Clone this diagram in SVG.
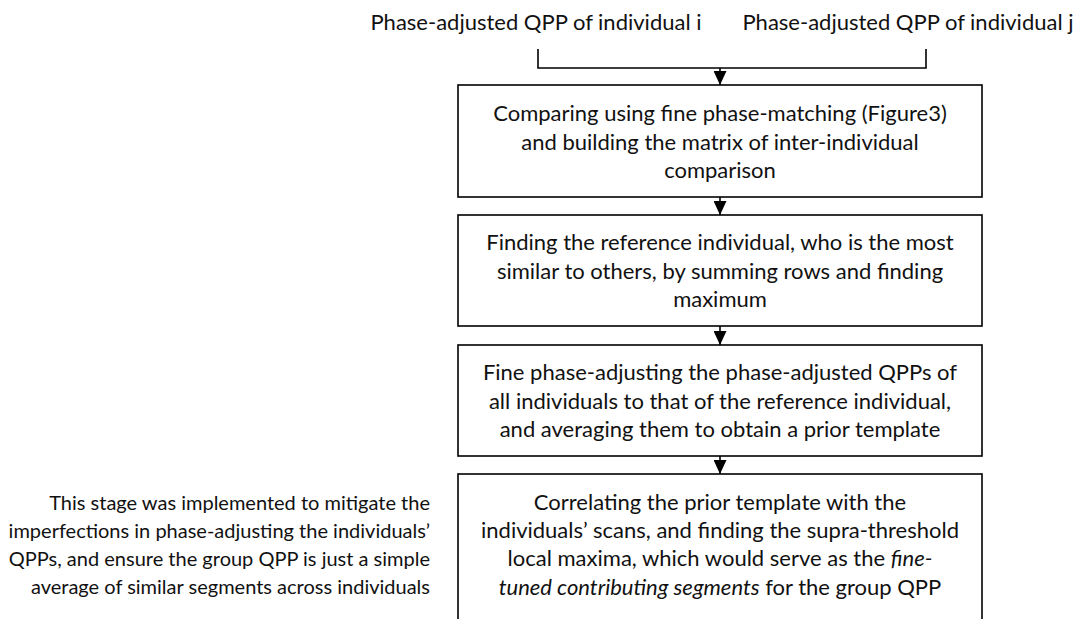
<svg xmlns="http://www.w3.org/2000/svg" width="1079" height="619" viewBox="0 0 1079 619">
  <defs>
    <marker id="arrowhead" markerWidth="14" markerHeight="13" refX="14" refY="6.5" orient="auto" markerUnits="userSpaceOnUse">
      <path d="M0,0 L14,6.5 L0,13 Z" fill="#000"/>
    </marker>
  </defs>
  <style>
    .box { fill: #fff; stroke: #000; stroke-width: 1.6; }
    .edge { fill: none; stroke: #000; stroke-width: 1.6; }
    .label { font-family: Lato, "Open Sans", sans-serif; font-size: 22px; fill: #111; text-anchor: middle; }
    .note { font-family: Lato, "Open Sans", sans-serif; font-size: 20px; fill: #111; text-anchor: end; }
    .it { font-style: italic; }
  </style>
  <rect width="1079" height="619" fill="#fff"/>

  <!-- inputs -->
  <g id="input-i">
    <text class="label" x="536" y="30">Phase-adjusted QPP of individual i</text>
  </g>
  <g id="input-j">
    <text class="label" x="908" y="30">Phase-adjusted QPP of individual j</text>
  </g>

  <!-- process steps -->
  <g id="step-compare">
    <rect class="box" x="458" y="85" width="524" height="112"/>
    <text class="label" x="720" y="121">Comparing using fine phase-matching (Figure3)</text>
    <text class="label" x="720" y="150">and building the matrix of inter-individual</text>
    <text class="label" x="720" y="178">comparison</text>
  </g>
  <g id="step-reference">
    <rect class="box" x="458" y="215" width="524" height="111"/>
    <text class="label" x="720" y="250">Finding the reference individual, who is the most</text>
    <text class="label" x="720" y="279">similar to others, by summing rows and finding</text>
    <text class="label" x="720" y="307">maximum</text>
  </g>
  <g id="step-prior-template">
    <rect class="box" x="458" y="345" width="524" height="111"/>
    <text class="label" x="720" y="380">Fine phase-adjusting the phase-adjusted QPPs of</text>
    <text class="label" x="720" y="409">all individuals to that of the reference individual,</text>
    <text class="label" x="720" y="437">and averaging them to obtain a prior template</text>
  </g>
  <g id="step-correlate">
    <rect class="box" x="458" y="474" width="524" height="160"/>
    <text class="label" x="720" y="510">Correlating the prior template with the</text>
    <text class="label" x="720" y="538">individuals’ scans, and finding the supra-threshold</text>
    <text class="label" x="720" y="566">local maxima, which would serve as the <tspan class="it">fine-</tspan></text>
    <text class="label" x="720" y="595"><tspan class="it">tuned contributing segments</tspan> for the group QPP</text>
  </g>

  <!-- side note -->
  <g id="note">
    <text class="note" x="430" y="510">This stage was implemented to mitigate the</text>
    <text class="note" x="430" y="538">imperfections in phase-adjusting the individuals’</text>
    <text class="note" x="430" y="566">QPPs, and ensure the group QPP is just a simple</text>
    <text class="note" x="430" y="594">average of similar segments across individuals</text>
  </g>

  <!-- connectors -->
  <g id="connectors">
    <path class="edge" d="M538,49 V68 H926 V49"/>
    <path class="edge" d="M720,68 V85" marker-end="url(#arrowhead)"/>
    <path class="edge" d="M720,197 V215" marker-end="url(#arrowhead)"/>
    <path class="edge" d="M720,326 V345" marker-end="url(#arrowhead)"/>
    <path class="edge" d="M720,456 V474" marker-end="url(#arrowhead)"/>
  </g>
</svg>
